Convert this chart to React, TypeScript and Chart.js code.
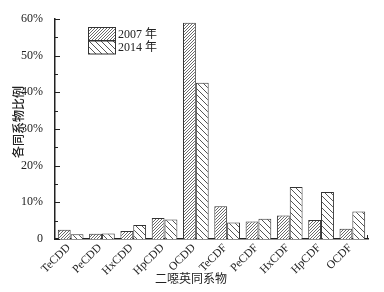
import React, { useEffect, useRef } from "react";
import { Chart, registerables } from "chart.js";

Chart.register(...registerables);

const categories = ["TeCDD", "PeCDD", "HxCDD", "HpCDD", "OCDD", "TeCDF", "PeCDF", "HxCDF", "HpCDF", "OCDF"];
const values2007 = [2.5, 1.4, 2.2, 5.7, 59.0, 8.9, 4.8, 6.4, 5.2, 2.8];
const values2014 = [1.3, 1.5, 3.8, 5.3, 42.6, 4.5, 5.5, 14.2, 12.8, 7.5];
const seriesLabels = ["2007 年", "2014 年"];
const yTitle = "各同系物比例";
const xTitle = "二噁英同系物";

const FONT = '"Liberation Serif", "Noto Sans CJK SC", serif';
const CJK = '"Noto Sans CJK SC", sans-serif';

function makePattern(kind: "dense" | "sparse"): CanvasPattern | string {
  const c = document.createElement("canvas");
  const n = kind === "dense" ? 3 : 6;
  c.width = n;
  c.height = n;
  const g = c.getContext("2d")!;
  g.fillStyle = "#ffffff";
  g.fillRect(0, 0, n, n);
  g.fillStyle = kind === "dense" ? "#6a6a6a" : "#555555";
  for (let i = 0; i < n; i++) {
    if (kind === "dense") g.fillRect(i, n - 1 - i, 1, 1);
    else g.fillRect(i, i, 1, 1);
  }
  const ctx = document.createElement("canvas").getContext("2d")!;
  return ctx.createPattern(c, "repeat") || "#ccc";
}

export default function App() {
  const ref = useRef<HTMLCanvasElement>(null);
  useEffect(() => {
    const p1 = makePattern("dense");
    const p2 = makePattern("sparse");
    const deco = {
      id: "deco",
      afterDraw(chart: any) {
        const ctx = chart.ctx;
        const ys = chart.scales.y;
        const xs = chart.scales.x;
        const area = chart.chartArea;
        ctx.save();
        ctx.strokeStyle = "#222";
        ctx.lineWidth = 1;
        for (let v = 0; v <= 60; v += 5) {
          const py = Math.round(ys.getPixelForValue(v)) + 0.5;
          const len = v % 10 === 0 ? 5 : 3;
          ctx.beginPath();
          ctx.moveTo(area.left, py);
          ctx.lineTo(area.left + len, py);
          ctx.stroke();
        }
        ctx.beginPath();
        ctx.moveTo(area.right - 0.5, area.bottom);
        ctx.lineTo(area.right - 0.5, area.bottom - 4);
        ctx.stroke();
        // x tick labels, rotated 45°
        ctx.fillStyle = "#222";
        ctx.font = `11.5px ${FONT}`;
        ctx.textAlign = "right";
        ctx.textBaseline = "middle";
        categories.forEach((lab, i) => {
          const px = xs.getPixelForTick(i);
          ctx.save();
          ctx.translate(px - 2, area.bottom + 7);
          ctx.rotate(-Math.PI / 4);
          ctx.fillText(lab, 0, 0);
          ctx.restore();
        });
        // legend
        const pats = [p1, p2];
        for (let i = 0; i < 2; i++) {
          const bx = 88.5, by = 27.5 + i * 13.5, bw = 27, bh = 13;
          ctx.fillStyle = pats[i];
          ctx.fillRect(bx, by, bw, bh);
          ctx.strokeStyle = "#333";
          ctx.strokeRect(bx, by, bw, bh);
          ctx.fillStyle = "#222";
          ctx.font = `12px ${FONT}`;
          ctx.textAlign = "left";
          ctx.textBaseline = "middle";
          ctx.fillText(seriesLabels[i], 118, by + bh / 2 + 0.5);
        }
        // titles
        ctx.fillStyle = "#222";
        ctx.font = `12px ${CJK}`;
        ctx.textAlign = "center";
        ctx.textBaseline = "middle";
        ctx.fillText(xTitle, 191, 278);
        ctx.save();
        ctx.translate(18, 122);
        ctx.rotate(-Math.PI / 2);
        ctx.font = `500 12px ${CJK}`;
        ctx.fillText(yTitle, 0, 0);
        ctx.restore();
        ctx.restore();
      },
    };
    const chart = new Chart(ref.current!, {
      type: "bar",
      data: {
        labels: categories,
        datasets: [
          { label: seriesLabels[0], data: values2007, backgroundColor: p1 as any, borderColor: "#333", borderWidth: 1 },
          { label: seriesLabels[1], data: values2014, backgroundColor: p2 as any, borderColor: "#333", borderWidth: 1 },
        ],
      },
      options: {
        animation: false,
        responsive: false,
        layout: { padding: { left: 0, top: 19, right: 16, bottom: 0 } },
        datasets: { bar: { categoryPercentage: 0.82, barPercentage: 1 } },
        plugins: { legend: { display: false }, tooltip: { enabled: false } },
        scales: {
          x: {
            grid: { display: false },
            border: { display: true, color: "#222", width: 1.5 },
            ticks: { display: false },
            afterFit: (s: any) => {
              s.height = 53;
            },
          },
          y: {
            min: 0,
            max: 60,
            grid: { display: false },
            border: { display: true, color: "#222", width: 1.5 },
            ticks: {
              stepSize: 10,
              color: "#222",
              font: { family: FONT, size: 12 },
              padding: 4,
              callback: (v: any) => (Number(v) === 0 ? "0" : v + "%"),
            },
            afterFit: (s: any) => {
              s.width = 55;
            },
          },
        },
      },
      plugins: [deco],
    });
    return () => chart.destroy();
  }, []);
  return (
    <div style={{ position: "fixed", left: 0, top: 0, width: 384, height: 292, background: "#fff" }}>
      <canvas ref={ref} width={384} height={292} />
    </div>
  );
}
